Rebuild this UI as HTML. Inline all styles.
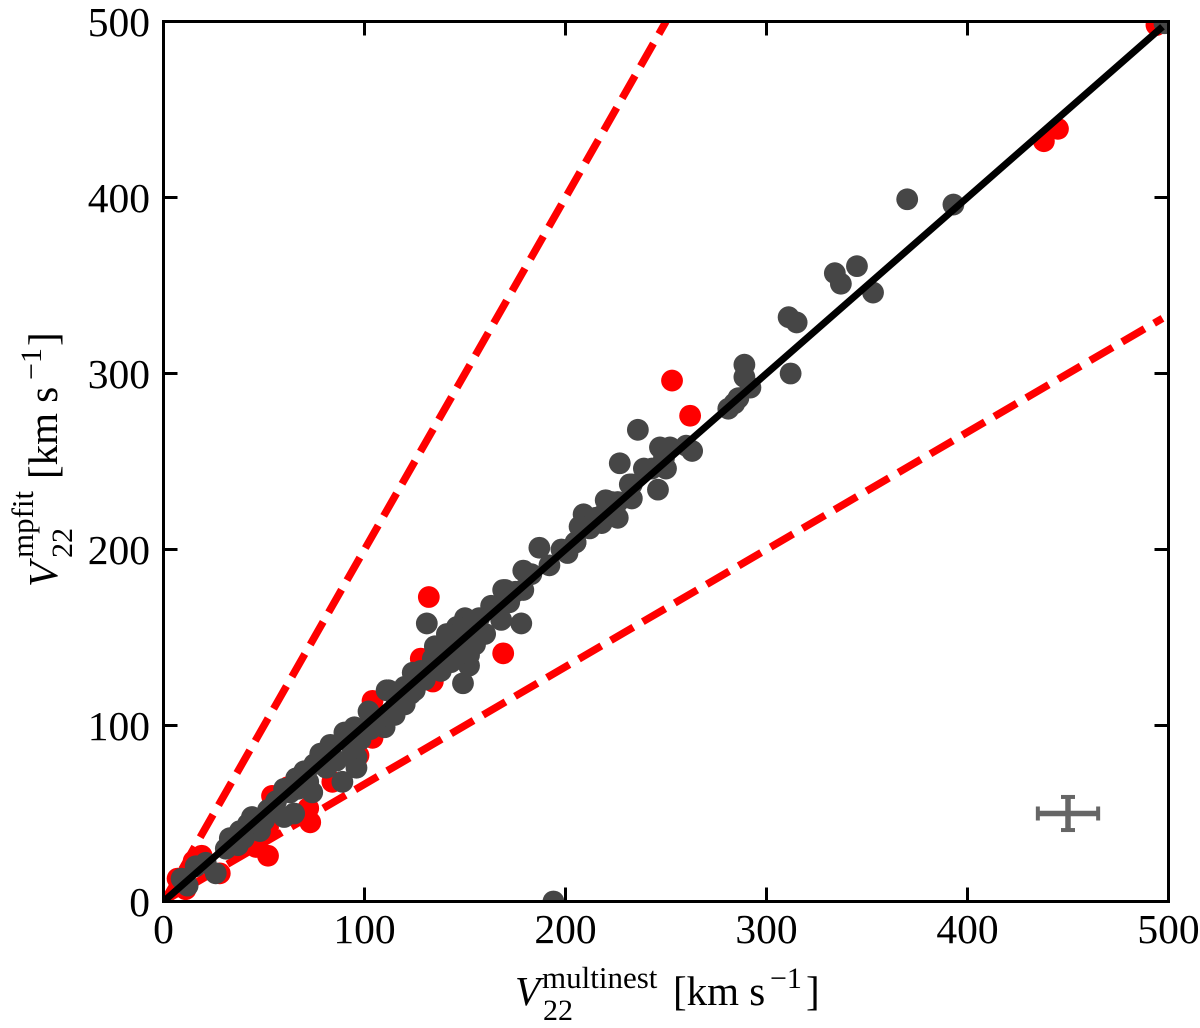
<!DOCTYPE html>
<html>
<head>
<meta charset="utf-8">
<title>V22 mpfit vs multinest</title>
<style>
html,body{margin:0;padding:0;background:#fff;}
svg{display:block;}
text{font-family:"Liberation Serif",serif;fill:#000;text-rendering:optimizeLegibility;font-variant-ligatures:common-ligatures;}
</style>
</head>
<body>
<svg id="chart" xmlns="http://www.w3.org/2000/svg" width="1200" height="1028" viewBox="0 0 1200 1028">
  <defs><clipPath id="plot-clip"><rect x="163.5" y="21" width="1005" height="880.5"></rect></clipPath></defs>
  <rect width="1200" height="1028" fill="#fff"></rect>
  <g id="marks" clip-path="url(#plot-clip)"></g>
  <g id="axes"></g>
  <g>
    <text x="515" y="1005" font-size="41" font-style="italic">V</text>
    <text x="542" y="988" font-size="31">multinest</text>
    <text x="543" y="1020" font-size="30">22</text>
    <text x="673" y="1005" font-size="41">[km s</text>
    <text x="770" y="988" font-size="30">−1</text>
    <text x="806" y="1005" font-size="41">]</text>
  </g>
  <g>
    <text transform="translate(57,587) rotate(-90)" font-size="41" font-style="italic">V</text>
    <text transform="translate(33,558) rotate(-90)" font-size="31">mpfit</text>
    <text transform="translate(72,558) rotate(-90)" font-size="30">22</text>
    <text transform="translate(57,479) rotate(-90)" font-size="41">[km s</text>
    <text transform="translate(41,380) rotate(-90)" font-size="30">−1</text>
    <text transform="translate(57,346) rotate(-90)" font-size="41">]</text>
  </g>
</svg>
<script>
const xTicks = [0, 100, 200, 300, 400, 500];
const yTicks = [0, 100, 200, 300, 400, 500];
const redX = [494,438,445,253,262,169,132,134,128,158,104,104,97,84,73,72,62,54,52,46,52,28,19,15,11,7,35,42];
const redY = [498,432,439,296,276,141,173,125,138,152,114,93,83,68,45,53,65,60,26,31,42,16,26,23,7,13,30,38];
const grayX = [498,370,393,345,334,337,353,311,315,312,289,289,292,286,281,284,236,227,239,233,246,247,252,263,260,250,249,243,226,220,223,218,233,232,226,219,209,207,205,201,192,187,179,179,178,169,172,170,166,163,168,160,157,154,150,149,146,141,152,152,149,140,135,134,131,128,130,124,123,112,120,116,115,120,110,106,103,102,111,96,96,95,89,90,94,83,78,75,74,70,63,65,60,56,60,48,44,42,37,33,31,26,21,12,9,16,194,212,215,198,205,175,183,155,148,143,138,125,105,98,86,81,72,67,66,52,50,38,40];
const grayY = [499,399,396,361,357,351,346,332,329,300,305,298,292,286,280,283,268,249,246,237,234,258,258,256,259,246,252,246,227,228,227,215,229,237,218,220,220,213,204,198,191,201,188,177,158,177,170,177,165,168,160,152,161,156,161,150,156,152,134,140,124,145,145,138,158,131,126,130,118,120,112,115,106,122,99,103,98,108,120,76,82,99,68,96,87,89,84,78,62,74,62,50,48,57,64,40,48,44,32,36,30,16,22,9,13,20,0,212,218,200,204,176,186,146,141,136,131,120,100,92,80,76,68,64,70,52,46,40,36];
const diagonalRange = [0, 497];
const upperSlope = 2;
const lowerSlope = 0.6667;
const errorCenter = [450, 50];
const errorSize = [15, 9.4];

const NS = 'http://www.w3.org/2000/svg';
const sx = v => 163.5 + v * 2.01;
const sy = v => 901.5 - v * 1.76;
const marks = document.getElementById('marks');
const axes = document.getElementById('axes');

function mk(parent, tag, attrs, text) {
  const el = document.createElementNS(NS, tag);
  for (const k in attrs) el.setAttribute(k, attrs[k]);
  if (text !== undefined) el.textContent = text;
  parent.appendChild(el);
  return el;
}

redX.forEach((x, i) => {
  const c = mk(marks, 'circle', {cx: sx(x), cy: sy(redY[i]), r: 10.9, fill: '#ff0000'});
  
  
});

[upperSlope, lowerSlope].forEach(m => {
  const xEnd = Math.min(diagonalRange[1], 500 / m);
  const l = mk(marks, 'line', {x1: sx(0), y1: sy(0), x2: sx(xEnd), y2: sy(xEnd * m), stroke: '#ff0000', 'stroke-width': 7.5, 'stroke-dasharray': '26 11'});
  
  
});

grayX.forEach((x, i) => {
  const c = mk(marks, 'circle', {cx: sx(x), cy: sy(grayY[i]), r: 10.9, fill: '#464646'});
  
  
});

const diag = mk(marks, 'line', {x1: sx(diagonalRange[0]), y1: sy(diagonalRange[0]), x2: sx(diagonalRange[1]), y2: sy(diagonalRange[1]), stroke: '#000', 'stroke-width': 7});



const errGroup = mk(marks, 'g', {stroke: '#666', fill: 'none'});


const ex = sx(errorCenter[0]), ey = sy(errorCenter[1]);
const ex0 = sx(errorCenter[0] - errorSize[0]), ex1 = sx(errorCenter[0] + errorSize[0]);
const ey0 = sy(errorCenter[1] - errorSize[1]), ey1 = sy(errorCenter[1] + errorSize[1]);
mk(errGroup, 'line', {x1: ex0, y1: ey, x2: ex1, y2: ey, 'stroke-width': 5.5});
mk(errGroup, 'line', {x1: ex, y1: ey0, x2: ex, y2: ey1, 'stroke-width': 5.5});
mk(errGroup, 'line', {x1: ex0, y1: ey - 7, x2: ex0, y2: ey + 7, 'stroke-width': 4});
mk(errGroup, 'line', {x1: ex1, y1: ey - 7, x2: ex1, y2: ey + 7, 'stroke-width': 4});
mk(errGroup, 'line', {x1: ex - 7, y1: ey0, x2: ex + 7, y2: ey0, 'stroke-width': 4});
mk(errGroup, 'line', {x1: ex - 7, y1: ey1, x2: ex + 7, y2: ey1, 'stroke-width': 4});

const frame = mk(axes, 'rect', {x: sx(0), y: sy(500), width: sx(500) - sx(0), height: sy(0) - sy(500), fill: 'none', stroke: '#000', 'stroke-width': 3});



xTicks.forEach(t => {
  const a = mk(axes, 'line', {x1: sx(t), y1: sy(0), x2: sx(t), y2: sy(0) - 14, stroke: '#000', 'stroke-width': 3});
  
  
  const b = mk(axes, 'line', {x1: sx(t), y1: sy(500), x2: sx(t), y2: sy(500) + 14, stroke: '#000', 'stroke-width': 3});
  
  
  const lab = mk(axes, 'text', {x: sx(t), y: 943, 'font-size': 41.5, 'text-anchor': 'middle'}, String(t));
  
  
});

yTicks.forEach(t => {
  const a = mk(axes, 'line', {x1: sx(0), y1: sy(t), x2: sx(0) + 14, y2: sy(t), stroke: '#000', 'stroke-width': 3});
  
  
  const b = mk(axes, 'line', {x1: sx(500), y1: sy(t), x2: sx(500) - 14, y2: sy(t), stroke: '#000', 'stroke-width': 3});
  
  
  const lab = mk(axes, 'text', {x: 150, y: sy(t) + 14.5, 'font-size': 41.5, 'text-anchor': 'end'}, String(t));
  
  
});
</script>
</body>
</html>
